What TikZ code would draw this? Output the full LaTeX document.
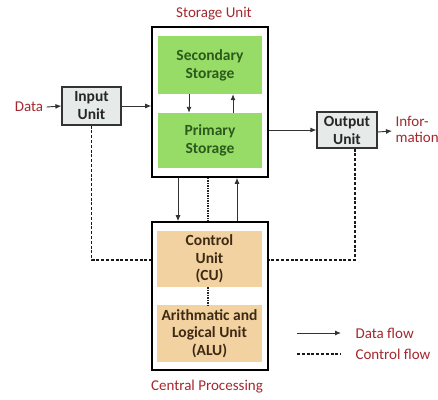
\documentclass[tikz,border=0pt]{standalone}
\usepackage{fontspec}
\setmainfont{Carlito}
\usetikzlibrary{arrows.meta}
\definecolor{boxgreen}{HTML}{98DC68}
\definecolor{boxtan}{HTML}{F3D2A2}
\definecolor{boxgray}{HTML}{E6EBEA}
\definecolor{labred}{HTML}{A3282E}
\definecolor{txtgreen}{HTML}{2C5A1C}
\definecolor{txttan}{HTML}{3E2A14}
\definecolor{linec}{HTML}{333333}
\tikzset{
  lbl/.style={font=\fontsize{15}{16}\selectfont, text=labred, align=left},
  outer/.style={draw=black, line width=1.6pt, minimum width=116pt, inner sep=0pt},
  gbox/.style={fill=boxgreen, minimum width=104pt, inner sep=0pt, align=center, text=txtgreen, font=\fontsize{15.5}{18}\selectfont\bfseries},
  tbox/.style={fill=boxtan, minimum width=105pt, inner sep=0pt, align=center, text=txttan, font=\fontsize{15.5}{17.5}\selectfont\bfseries},
  iobox/.style={draw=linec, line width=1.2pt, fill=boxgray, inner sep=0pt, align=center, text=black!85, font=\fontsize{15.5}{18}\selectfont\bfseries},
  flow/.style={draw=linec, line width=0.9pt, -{Latex[length=6pt,width=5pt]}},
  ctrl/.style={draw=black!90, line width=1.6pt, dash pattern=on 3pt off 1.8pt},
  fine/.style={draw=black!85, line width=1.2pt, dash pattern=on 1.5pt off 1pt}
}
\begin{document}
\begin{tikzpicture}[x=1pt,y=-1pt]
\useasboundingbox (0,0) rectangle (438,399);
% storage unit
\node[outer, minimum height=150pt] (stor) at (210,102) {};
\node[gbox, minimum height=58pt] (sec) at (210,65) {Secondary\\Storage};
\node[gbox, minimum height=55pt] (pri) at (210,140.5) {Primary\\Storage};
\node[lbl] (storlbl) at (214,14) {Storage Unit};
% cpu
\node[outer, minimum height=148pt] (cpu) at (210,296) {};
\node[tbox, minimum height=56pt] (cu) at (209.5,259) {Control\\Unit\\(CU)};
\node[tbox, minimum height=57pt] (alu) at (209.5,333.5) {Arithmatic and\\Logical Unit\\(ALU)};
\node[lbl] (cpulbl) at (207,387) {Central Processing};
% io
\node[iobox, minimum width=59pt, minimum height=38pt] (in) at (91.5,106) {Input\\Unit};
\node[iobox, minimum width=60pt, minimum height=36pt] (out) at (347,130) {Output\\Unit};
\node[lbl] (data) at (29,107) {Data};
\node[lbl, anchor=west, font=\fontsize{15}{16}\selectfont] (info) at (392,129) {Infor-\\mation};
% data flows
\draw[flow] (data.east) -- (in.west);
\draw[flow] (in.east) -- (in.east -| stor.west);
\draw[flow] (out.west -| stor.east) -- (out.west);
\draw[flow] ([yshift=-2pt]out.east) -- ([yshift=-2pt]info.west);
\draw[flow] ([xshift=-21pt]sec.south) -- ([xshift=-21pt]pri.north);
\draw[flow] ([xshift=23pt]pri.north) -- ([xshift=23pt]sec.south);
\draw[flow] ([xshift=-32pt]stor.south) -- ([xshift=-32pt]cpu.north);
\draw[flow] ([xshift=27pt]cpu.north) -- ([xshift=27pt]stor.south);
% control flows
\draw[fine] ([xshift=-2pt]stor.south) -- ([xshift=-2pt]cpu.north);
\draw[fine] ([xshift=-1.5pt]cu.south) -- ([xshift=-1.5pt]alu.north);
\draw[ctrl] (in.south) -- (in.south |- 0,260) -- (cpu.west |- 0,260);
\draw[ctrl] ([xshift=8pt]out.south) -- ([xshift=8pt]out.south |- 0,260) -- (cpu.east |- 0,260);
% legend
\coordinate (l1a) at (297,333);
\coordinate (l1b) at (341,333);
\coordinate (l2a) at (297,354);
\coordinate (l2b) at (341,354);
\draw[flow] (l1a) -- (l1b);
\draw[ctrl] (l2a) -- (l2b);
\node[lbl, anchor=west] (dflow) at (352,333) {Data flow};
\node[lbl, anchor=west] (cflow) at (352,354) {Control flow};
\end{tikzpicture}
\end{document}
